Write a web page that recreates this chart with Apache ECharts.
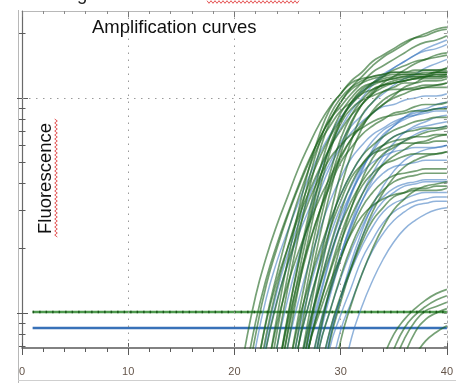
<!DOCTYPE html>
<html>
<head>
<meta charset="utf-8">
<script src="https://cdn.jsdelivr.net/npm/echarts@6/dist/echarts.min.js"></script>
<style>
  html, body { margin: 0; padding: 0; background: #fff; }
  #chart { width: 456px; height: 383px; }
</style>
</head>
<body>
<div id="chart"></div>
<script>
// fluorescence is kept as log10 of the signal relative to the threshold (log axis drawn on a value axis)
const cycleMin = 0
const cycleMax = 40
const logMin = -0.163
const logMax = 1.405

// first cycle of every curve, its dye colour and its values cycle by cycle
const curveStart = [20, 21, 21, 22, 22, 23, 23, 23, 24, 24, 25, 25, 26, 23, 24, 24, 25, 25, 26, 26, 22, 26, 22, 25, 26, 26, 27, 27, 27, 27, 28, 28, 28, 29, 26, 24, 34, 34, 35, 36, 37,
  22, 23, 24, 25, 25, 26, 27, 21, 28, 24, 26, 22,
  27, 28, 26, 29, 27, 30, 28]
const curveDye = ['g', 'g', 'b', 'g', 'b', 'g', 'g', 'g', 'g', 'g', 'g', 'g', 'g', 'b', 'g', 'b', 'g', 'b', 'g', 'g', 'g', 'b', 'g', 'g', 'b', 'g', 'b', 'g', 'g', 'b', 'g', 'b', 'b', 'b', 'g', 'g', 'g', 'g', 'g', 'g', 'g',
  'b', 'g', 'g', 'b', 'g', 'g', 'b', 'g', 'b', 'g', 'g', 'g',
  'b', 'g', 'b', 'g', 'g', 'b', 'b']
const curveValues = [
  [-0.45, -0.16, 0.08, 0.26, 0.41, 0.54, 0.67, 0.78, 0.88, 0.96, 1.02, 1.08, 1.12, 1.17, 1.20, 1.23, 1.26, 1.28, 1.29, 1.31, 1.32],
  [-0.30, -0.04, 0.16, 0.32, 0.46, 0.59, 0.71, 0.81, 0.90, 0.96, 1.02, 1.07, 1.12, 1.15, 1.18, 1.21, 1.24, 1.26, 1.27, 1.29],
  [-0.45, -0.16, 0.07, 0.24, 0.38, 0.51, 0.63, 0.74, 0.83, 0.91, 0.97, 1.03, 1.07, 1.11, 1.14, 1.17, 1.20, 1.22, 1.23, 1.25],
  [-0.30, -0.04, 0.15, 0.30, 0.44, 0.56, 0.67, 0.77, 0.85, 0.92, 0.97, 1.02, 1.07, 1.10, 1.13, 1.16, 1.18, 1.20, 1.21],
  [-0.45, -0.16, 0.06, 0.22, 0.36, 0.48, 0.60, 0.70, 0.79, 0.87, 0.92, 0.98, 1.02, 1.06, 1.09, 1.11, 1.14, 1.16, 1.18],
  [-0.30, -0.05, 0.13, 0.28, 0.41, 0.53, 0.63, 0.73, 0.81, 0.87, 0.93, 0.97, 1.01, 1.05, 1.07, 1.10, 1.12, 1.14],
  [-0.30, -0.02, 0.24, 0.47, 0.67, 0.83, 0.95, 1.02, 1.07, 1.09, 1.10, 1.11, 1.12, 1.12, 1.12, 1.13, 1.13, 1.13],
  [-0.45, -0.16, 0.11, 0.35, 0.57, 0.75, 0.89, 0.98, 1.04, 1.07, 1.09, 1.10, 1.11, 1.11, 1.11, 1.12, 1.12, 1.12],
  [-0.30, -0.02, 0.23, 0.46, 0.66, 0.82, 0.93, 1.00, 1.05, 1.07, 1.08, 1.09, 1.10, 1.10, 1.10, 1.11, 1.11],
  [-0.45, -0.16, 0.11, 0.35, 0.57, 0.75, 0.89, 0.98, 1.04, 1.07, 1.09, 1.10, 1.11, 1.11, 1.11, 1.12, 1.12],
  [-0.30, -0.02, 0.23, 0.46, 0.65, 0.81, 0.92, 0.99, 1.04, 1.06, 1.07, 1.08, 1.09, 1.09, 1.09, 1.10],
  [-0.45, -0.16, 0.11, 0.35, 0.56, 0.74, 0.88, 0.97, 1.03, 1.06, 1.08, 1.09, 1.10, 1.10, 1.11, 1.11],
  [-0.30, -0.02, 0.23, 0.45, 0.65, 0.80, 0.92, 0.98, 1.03, 1.05, 1.07, 1.07, 1.08, 1.08, 1.09],
  [-0.45, -0.16, 0.06, 0.25, 0.42, 0.56, 0.68, 0.77, 0.84, 0.89, 0.93, 0.96, 0.97, 0.99, 1.00, 1.01, 1.01, 1.02],
  [-0.30, -0.05, 0.15, 0.32, 0.47, 0.59, 0.70, 0.77, 0.83, 0.87, 0.90, 0.93, 0.94, 0.96, 0.97, 0.97, 0.98],
  [-0.45, -0.16, 0.05, 0.23, 0.38, 0.52, 0.63, 0.72, 0.78, 0.83, 0.86, 0.89, 0.91, 0.92, 0.93, 0.94, 0.94],
  [-0.30, -0.05, 0.13, 0.29, 0.43, 0.55, 0.65, 0.73, 0.78, 0.82, 0.85, 0.87, 0.89, 0.90, 0.91, 0.91],
  [-0.45, -0.16, 0.04, 0.21, 0.36, 0.49, 0.59, 0.68, 0.74, 0.78, 0.82, 0.84, 0.86, 0.87, 0.88, 0.89],
  [-0.30, -0.06, 0.12, 0.27, 0.41, 0.52, 0.61, 0.68, 0.74, 0.77, 0.80, 0.82, 0.84, 0.85, 0.86],
  [-0.45, -0.16, 0.03, 0.19, 0.33, 0.45, 0.55, 0.63, 0.69, 0.73, 0.76, 0.79, 0.80, 0.82, 0.83],
  [-0.30, -0.03, 0.18, 0.37, 0.53, 0.67, 0.79, 0.87, 0.94, 0.98, 1.02, 1.04, 1.06, 1.07, 1.08, 1.09, 1.10, 1.10, 1.10],
  [-0.45, -0.16, 0.06, 0.25, 0.41, 0.55, 0.66, 0.76, 0.83, 0.87, 0.91, 0.94, 0.95, 0.97, 0.98],
  [-0.45, -0.16, 0.05, 0.23, 0.38, 0.52, 0.63, 0.72, 0.78, 0.83, 0.86, 0.89, 0.91, 0.92, 0.93, 0.94, 0.94, 0.95, 0.95],
  [-0.45, -0.16, 0.04, 0.22, 0.39, 0.52, 0.63, 0.69, 0.74, 0.76, 0.78, 0.79, 0.79, 0.79, 0.80, 0.80],
  [-0.30, -0.06, 0.13, 0.30, 0.45, 0.56, 0.65, 0.70, 0.73, 0.75, 0.76, 0.77, 0.77, 0.77, 0.78],
  [-0.45, -0.16, 0.03, 0.20, 0.36, 0.49, 0.59, 0.65, 0.69, 0.71, 0.73, 0.74, 0.74, 0.74, 0.75],
  [-0.30, -0.06, 0.11, 0.27, 0.41, 0.52, 0.60, 0.65, 0.68, 0.69, 0.70, 0.71, 0.71, 0.71],
  [-0.30, -0.07, 0.10, 0.25, 0.38, 0.49, 0.56, 0.61, 0.64, 0.65, 0.66, 0.67, 0.67, 0.67],
  [-0.45, -0.16, 0.01, 0.17, 0.31, 0.42, 0.51, 0.57, 0.61, 0.63, 0.64, 0.65, 0.65, 0.65],
  [-0.45, -0.16, 0.01, 0.16, 0.29, 0.40, 0.49, 0.54, 0.58, 0.60, 0.61, 0.62, 0.62, 0.62],
  [-0.30, -0.08, 0.08, 0.21, 0.33, 0.43, 0.49, 0.54, 0.56, 0.58, 0.58, 0.59, 0.59],
  [-0.30, -0.08, 0.07, 0.20, 0.31, 0.40, 0.47, 0.51, 0.53, 0.55, 0.56, 0.56, 0.56],
  [-0.45, -0.16, -0.01, 0.12, 0.25, 0.34, 0.42, 0.47, 0.50, 0.52, 0.53, 0.54, 0.54],
  [-0.30, -0.08, 0.05, 0.18, 0.29, 0.37, 0.43, 0.47, 0.50, 0.51, 0.52, 0.52],
  [-0.45, -0.16, 0.00, 0.14, 0.26, 0.37, 0.45, 0.50, 0.53, 0.55, 0.56, 0.57, 0.57, 0.57, 0.58],
  [-0.30, -0.03, 0.22, 0.43, 0.62, 0.77, 0.88, 0.95, 0.99, 1.01, 1.03, 1.04, 1.04, 1.04, 1.05, 1.05, 1.05],
  [-0.21, -0.10, -0.03, 0.02, 0.06, 0.09, 0.11],
  [-0.30, -0.17, -0.07, -0.01, 0.03, 0.06, 0.08],
  [-0.24, -0.12, -0.04, 0.01, 0.03, 0.05],
  [-0.20, -0.09, -0.03, 0.00, 0.02],
  [-0.20, -0.13, -0.09, -0.06],
  [-0.40, -0.12, 0.10, 0.27, 0.41, 0.54, 0.66, 0.77, 0.86, 0.94, 1.00, 1.06, 1.10, 1.14, 1.17, 1.20, 1.23, 1.25, 1.27],
  [-0.38, -0.09, 0.17, 0.41, 0.62, 0.79, 0.92, 1.00, 1.05, 1.08, 1.10, 1.11, 1.12, 1.12, 1.13, 1.13, 1.13, 1.14],
  [-0.38, -0.09, 0.17, 0.40, 0.61, 0.78, 0.90, 0.98, 1.03, 1.06, 1.08, 1.09, 1.10, 1.11, 1.11, 1.12, 1.12],
  [-0.38, -0.10, 0.10, 0.27, 0.42, 0.55, 0.65, 0.73, 0.80, 0.85, 0.88, 0.91, 0.93, 0.94, 0.95, 0.96],
  [-0.38, -0.09, 0.17, 0.41, 0.61, 0.77, 0.89, 0.97, 1.02, 1.05, 1.07, 1.08, 1.09, 1.10, 1.10, 1.11],
  [-0.38, -0.10, 0.12, 0.31, 0.47, 0.60, 0.69, 0.75, 0.78, 0.80, 0.81, 0.82, 0.82, 0.83, 0.83],
  [-0.38, -0.10, 0.10, 0.27, 0.42, 0.55, 0.65, 0.73, 0.79, 0.84, 0.87, 0.89, 0.91, 0.92],
  [-0.38, -0.10, 0.13, 0.30, 0.45, 0.58, 0.70, 0.81, 0.90, 0.98, 1.05, 1.10, 1.15, 1.19, 1.22, 1.25, 1.28, 1.30, 1.32, 1.33],
  [-0.38, -0.11, 0.07, 0.22, 0.35, 0.45, 0.52, 0.56, 0.59, 0.60, 0.61, 0.61, 0.61],
  [-0.38, -0.10, 0.12, 0.31, 0.47, 0.61, 0.72, 0.81, 0.88, 0.93, 0.97, 1.00, 1.02, 1.04, 1.05, 1.06, 1.07],
  [-0.38, -0.09, 0.16, 0.39, 0.58, 0.74, 0.86, 0.94, 0.99, 1.02, 1.04, 1.05, 1.06, 1.06, 1.07],
  [-0.38, -0.10, 0.12, 0.30, 0.46, 0.60, 0.72, 0.82, 0.90, 0.97, 1.02, 1.07, 1.10, 1.13, 1.15, 1.17, 1.18, 1.19, 1.20],
  [-0.40, -0.12, 0.08, 0.25, 0.40, 0.52, 0.62, 0.70, 0.76, 0.80, 0.83, 0.85, 0.86, 0.87],
  [-0.40, -0.13, 0.05, 0.21, 0.35, 0.47, 0.56, 0.63, 0.68, 0.71, 0.73, 0.74, 0.75],
  [-0.40, -0.12, 0.08, 0.26, 0.42, 0.56, 0.67, 0.75, 0.82, 0.87, 0.90, 0.92, 0.94, 0.95, 0.96],
  [-0.40, -0.13, 0.04, 0.18, 0.30, 0.40, 0.48, 0.53, 0.57, 0.59, 0.60, 0.61],
  [-0.40, -0.11, 0.12, 0.32, 0.49, 0.62, 0.72, 0.78, 0.82, 0.84, 0.85, 0.86, 0.86, 0.87],
  [-0.35, -0.12, 0.03, 0.15, 0.25, 0.33, 0.39, 0.43, 0.46, 0.48, 0.49],
  [-0.40, -0.12, 0.07, 0.24, 0.38, 0.50, 0.59, 0.66, 0.71, 0.74, 0.76, 0.77, 0.78],
]

// thresholds (log10 units) and the cycles they span
const greenThreshold = 0.005
const blueThreshold = -0.07
const thresholdCycles = [1, 40]

// tick marks of the log axis, in raw fluorescence multiples
const yMajorTicks = [1, 10]
const yMinorTicks = [0.7, 0.8, 0.9, 2, 3, 4, 5, 6, 7, 8, 9, 20]
const xMinorStep = 2
const xMajorStep = 10
const gridCycles = [10, 20, 30]
const gridLevels = [10]

const dyeStyle = {
  g: { color: '#1b631b', opacity: 0.6, width: 1.7, z: 4 },
  b: { color: '#3674be', opacity: 0.55, width: 1.5, z: 3 },
}

const majorLog = yMajorTicks.map((v) => Math.log10(v))
const allLog = yMinorTicks.map((v) => Math.log10(v)).concat(majorLog)

const chart = echarts.init(document.getElementById('chart'), null, { renderer: 'canvas' })

const axisGray = '#5a5a5a'
const frameGray = '#b8b8b8'

const xBase = {
  type: 'value',
  min: cycleMin,
  max: cycleMax,
  splitLine: { show: false },
  axisLabel: { show: false },
  axisLine: { show: false, onZero: false },
}

const yBase = {
  type: 'value',
  min: logMin,
  max: logMax,
  splitLine: { show: false },
  axisLabel: { show: false },
  axisLine: { show: false, onZero: false },
}

const curveSeries = curveValues.map((vals, i) => {
  const s = dyeStyle[curveDye[i]]
  return {
    type: 'line',
    data: vals.map((v, k) => [curveStart[i] + k, v]),
    showSymbol: false,
    symbol: 'none',
    smooth: 0.5,
    clip: true,
    silent: true,
    z: s.z,
    lineStyle: { color: s.color, width: s.width, opacity: s.opacity },
  }
})

const thresholdSeries = [
  {
    type: 'line',
    data: thresholdCycles.map((c) => [c, blueThreshold]),
    symbol: 'none',
    silent: true,
    z: 2,
    lineStyle: { color: '#3871b8', width: 2.5 },
  },
  {
    type: 'line',
    data: thresholdCycles.map((c) => [c, greenThreshold]),
    symbol: 'none',
    silent: true,
    z: 2,
    lineStyle: { color: '#4f9a4f', width: 2.5 },
    markLine: {
      silent: true,
      symbol: ['none', 'none'],
      label: { show: false },
      animation: false,
      lineStyle: { color: '#9a9a9a', width: 1, type: [1.5, 5.5] },
      data: gridCycles.map((c) => ({ xAxis: c })).concat(gridLevels.map((v) => ({ yAxis: Math.log10(v) }))),
    },
  },
  {
    type: 'line',
    data: thresholdCycles.map((c) => [c, greenThreshold]),
    symbol: 'none',
    silent: true,
    z: 2,
    lineStyle: { color: '#1c561c', width: 2.5, type: [1.5, 5] },
  },
]

// little red spell-check waves left over from the document the chart was pasted in
const wave = (x0, y0, len, vertical) => {
  const pts = []
  for (let d = 0; d <= len; d += 2) {
    const off = (d / 2) % 2 === 0 ? -1.3 : 1.3
    pts.push(vertical ? [x0 + off, y0 + d] : [x0 + d, y0 + off])
  }
  return { type: 'polyline', silent: true, shape: { points: pts }, style: { stroke: '#e45555', lineWidth: 1, fill: null } }
}

chart.setOption({
  animation: false,
  backgroundColor: '#fff',
  grid: { left: 22, right: 2, top: 11, bottom: 35 },
  xAxis: [
    {
      ...xBase,
      position: 'bottom',
      interval: xMinorStep,
      axisLine: { show: true, onZero: false, lineStyle: { color: axisGray, width: 1.5 } },
      axisTick: { show: true, inside: false, length: 4, lineStyle: { color: axisGray } },
      axisLabel: {
        show: true,
        margin: 18,
        showMinLabel: true,
        showMaxLabel: true,
        color: '#65554a',
        fontSize: 11,
        fontFamily: 'Liberation Sans, Arial, sans-serif',
        formatter: (v) => (v % xMajorStep === 0 ? String(v) : ''),
      },
    },
    { ...xBase, position: 'bottom', interval: xMajorStep, axisTick: { show: true, inside: true, length: 5, lineStyle: { color: axisGray } } },
    { ...xBase, position: 'bottom', interval: xMajorStep, axisTick: { show: true, inside: false, length: 7, lineStyle: { color: axisGray } } },
    {
      ...xBase,
      position: 'top',
      interval: xMinorStep,
      axisLine: { show: true, onZero: false, lineStyle: { color: frameGray, width: 1 } },
      axisTick: { show: true, inside: true, length: 3, lineStyle: { color: '#8a8a8a' } },
    },
    { ...xBase, position: 'top', interval: xMajorStep, axisTick: { show: true, inside: true, length: 6, lineStyle: { color: '#777' } } },
  ],
  yAxis: [
    {
      ...yBase,
      position: 'left',
      axisLine: { show: true, onZero: false, lineStyle: { color: '#6a6a6a', width: 1.2 } },
      axisTick: { show: true, inside: true, length: 3.5, customValues: allLog, lineStyle: { color: axisGray } },
    },
    { ...yBase, position: 'left', axisTick: { show: true, inside: false, length: 3, customValues: allLog, lineStyle: { color: axisGray } } },
    { ...yBase, position: 'left', axisTick: { show: true, inside: true, length: 6, customValues: majorLog, lineStyle: { color: axisGray } } },
    { ...yBase, position: 'left', axisTick: { show: true, inside: false, length: 5, customValues: majorLog, lineStyle: { color: axisGray } } },
    {
      ...yBase,
      position: 'right',
      axisLine: { show: true, onZero: false, lineStyle: { color: '#a8a8a8', width: 1, type: [2, 3] } },
      axisTick: { show: true, inside: true, length: 3, customValues: allLog, lineStyle: { color: '#999' } },
    },
  ],
  graphic: [
    { type: 'line', silent: true, shape: { x1: 18.5, y1: 10, x2: 18.5, y2: 383 }, style: { stroke: frameGray, lineWidth: 1 } },
    { type: 'line', silent: true, shape: { x1: 18, y1: 380.5, x2: 456, y2: 380.5 }, style: { stroke: '#cfcfcf', lineWidth: 1 } },
    {
      type: 'text',
      silent: true,
      x: 92,
      y: 27.5,
      style: { text: 'Amplification curves', fill: '#111', fontSize: 18.5, fontFamily: 'Liberation Sans, Arial, sans-serif', textAlign: 'left', textVerticalAlign: 'middle' },
    },
    {
      type: 'text',
      silent: true,
      x: 45.5,
      y: 178.5,
      rotation: Math.PI / 2,
      style: { text: 'Fluorescence', fill: '#111', fontSize: 18.5, fontFamily: 'Liberation Sans, Arial, sans-serif', textAlign: 'center', textVerticalAlign: 'middle' },
    },
    {
      type: 'text',
      silent: true,
      x: 77,
      y: 4,
      style: { text: 'g', fill: '#222', fontSize: 18.5, fontFamily: 'Liberation Sans, Arial, sans-serif', textAlign: 'left', textVerticalAlign: 'bottom' },
    },
    wave(56, 119, 118, true),
    wave(207, 2, 93, false),
  ],
  series: thresholdSeries.concat(curveSeries),
})
</script>
</body>
</html>
